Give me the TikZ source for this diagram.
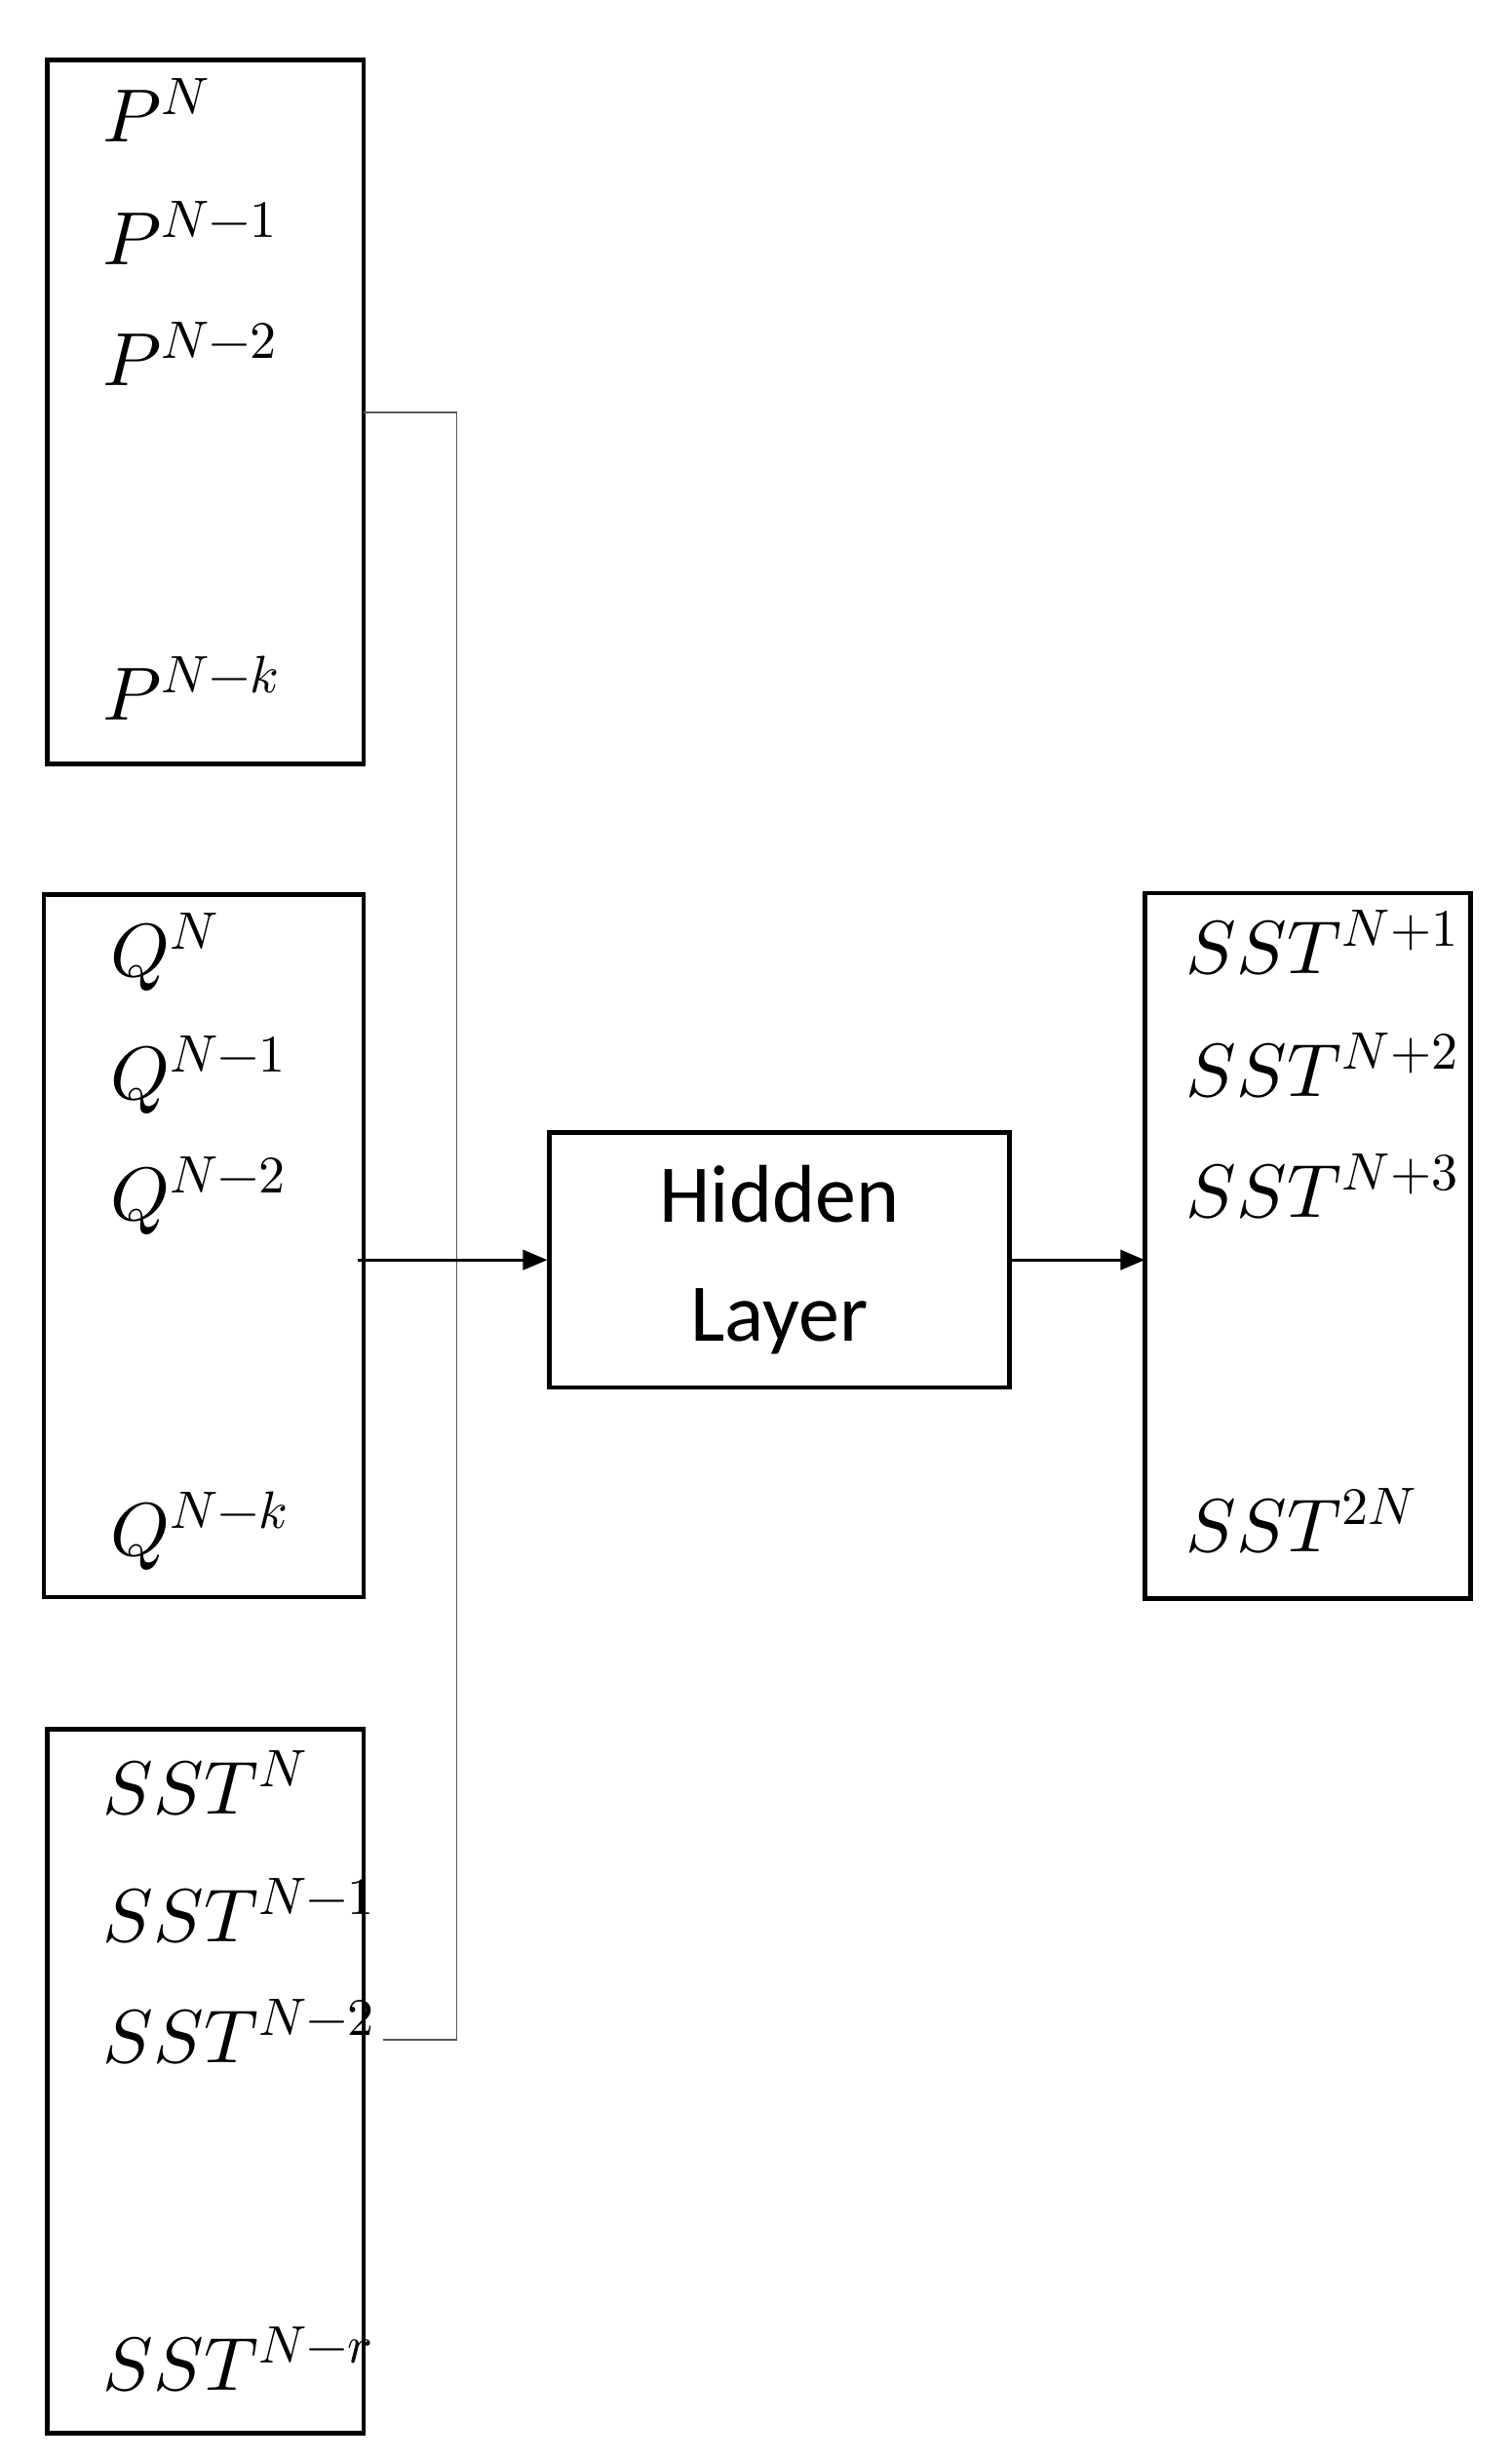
\documentclass[tikz,border=0pt]{standalone}
\usepackage{fontspec}
\usepackage{unicode-math}
\setmainfont{Carlito}
\setmathfont{Latin Modern Math}
\usetikzlibrary{arrows.meta}
\begin{document}
\begin{tikzpicture}[x=0.05cm,y=-0.05cm,
  box/.style={draw,line width=4pt},
  lab/.style={anchor=base west,inner sep=0pt,font=\fontsize{68}{82}\selectfont},
  conn/.style={line width=1.5pt,gray!70!black},
  arr/.style={line width=2.5pt,-{Triangle[length=22pt,width=18pt]}}]
\useasboundingbox (0,0) rectangle (960,1562);
\draw[box] (30,38) rectangle (231,485);
\draw[box] (28,568) rectangle (231,1014);
\draw[box] (30,1098) rectangle (231,1545);
\node[box,minimum width=292*0.05cm,minimum height=162*0.05cm,inner sep=0pt,align=center,
  font=\fontsize{74}{108}\selectfont] (h) at (495,800) {Hidden\\Layer};
\draw[box] (727,567) rectangle (934,1015);
\node[lab] at (65,90) {$P^{N}$};
\node[lab] at (65,168) {$P^{N-1}$};
\node[lab] at (65,245) {$P^{N-2}$};
\node[lab] at (65,457) {$P^{N-k}$};
\node[lab] at (70,620) {$Q^{N}$};
\node[lab] at (70,698) {$Q^{N-1}$};
\node[lab] at (70,775) {$Q^{N-2}$};
\node[lab] at (70,988) {$Q^{N-k}$};
\node[lab] at (65,1152) {$SST^{N}$};
\node[lab] at (65,1233) {$SST^{N-1}$};
\node[lab] at (65,1310) {$SST^{N-2}$};
\node[lab] at (65,1518) {$SST^{N-r}$};
\node[lab] at (753,618) {$SST^{N+1}$};
\node[lab] at (753,696) {$SST^{N+2}$};
\node[lab] at (753,773) {$SST^{N+3}$};
\node[lab] at (753,985) {$SST^{2N}$};
\coordinate (a) at (231,262);
\coordinate (b) at (243,1295);
\draw[conn] (a) -- (290,262) -- (290,1295) -- (b);
\coordinate (s) at (227,800);
\coordinate (o) at (727,800);
\draw[arr] (s) -- (h.west);
\draw[arr] (h.east) -- (o);
\end{tikzpicture}
\end{document}
